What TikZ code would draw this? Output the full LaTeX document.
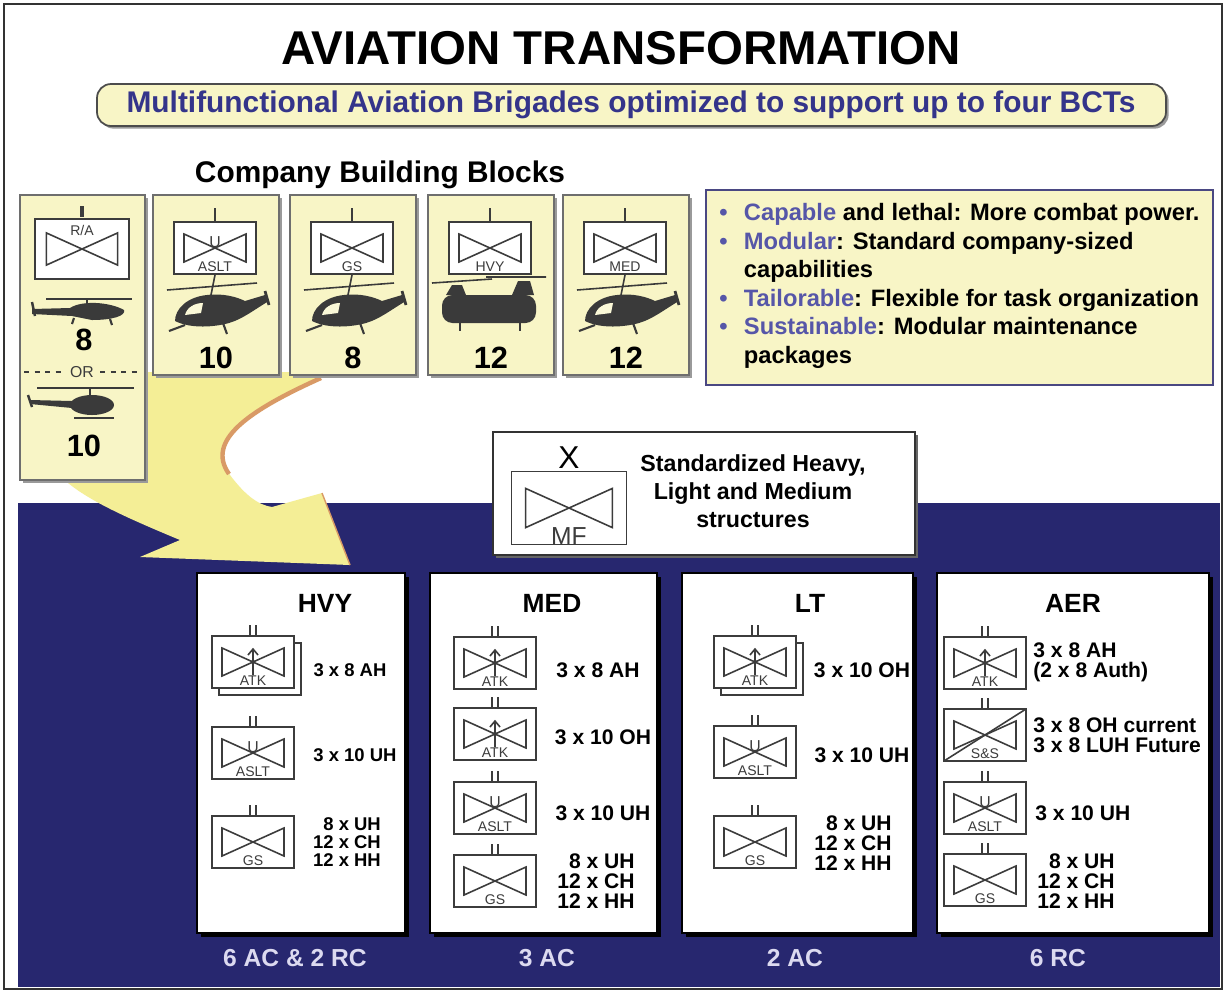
\documentclass[tikz,border=0pt]{standalone}
\usepackage{fontspec}
\setmainfont{Liberation Sans}
\usetikzlibrary{shadows,calc}
\definecolor{avNavy}{HTML}{27276F}
\definecolor{avCard}{HTML}{F8F5C6}
\definecolor{avArrow}{HTML}{F4EE96}
\definecolor{avEdge}{HTML}{D99A66}
\definecolor{avBlue}{HTML}{34348A}
\definecolor{avAccent}{HTML}{5656A8}
\definecolor{avFoot}{HTML}{DCDAF0}
\definecolor{avGray}{HTML}{6E6E6E}
\definecolor{avShade}{HTML}{9A9A9A}
\definecolor{avSym}{HTML}{3C3C3C}
\definecolor{avHeli}{HTML}{3A3A3A}
\definecolor{avFrame}{HTML}{4A4882}
\tikzset{
  card/.style={draw=avGray, line width=0.8pt, fill=avCard,
               drop shadow={shadow xshift=1.5pt, shadow yshift=-1.5pt,
                            opacity=1, fill=avShade}},
  colbox/.style={draw=black, line width=0.6pt, fill=white,
                 drop shadow={shadow xshift=2.5pt, shadow yshift=-2.5pt,
                              opacity=1, fill=black}},
  symline/.style={draw=avSym, line width=0.9pt},
  symlbl/.style={font=\fontsize{8}{8}\selectfont, text=avSym, inner sep=0pt},
  cnt/.style={font=\bfseries\fontsize{17.5}{18}\selectfont, inner sep=0pt},
  coltitle/.style={font=\bfseries\fontsize{15}{16}\selectfont, inner sep=0pt},
  qty/.style={font=\bfseries\fontsize{12}{11.5}\selectfont, align=left, inner sep=0pt},
  qtysm/.style={font=\bfseries\fontsize{10.5}{10.2}\selectfont, align=left, inner sep=0pt},
  foot/.style={font=\bfseries\fontsize{14}{15}\selectfont, text=avFoot, inner sep=0pt},
  bullet/.style={font=\bfseries\fontsize{13.5}{15}\selectfont, anchor=base west, inner sep=0pt},
  pics/unit/.style n args={3}{code={
    \draw[symline, fill=white] (-41,-26) rectangle (41,26);
    \draw[symline] (-31,-14) -- (31,14) -- (31,-14) -- (-31,14) -- cycle;
    \node[symlbl] (-lbl) at (0,19) {#1};
    #2
    #3
  }},
  pics/stack/.style={code={
    \draw[symline, fill=white] (-34,-19) rectangle (48,33);
  }},
  pics/hawk/.style={code={
    \fill[avHeli] (-40,14) .. controls (-40,2) and (-28,-10) .. (-8,-12)
      .. controls (8,-14) and (22,-10) .. (30,-6) -- (50,-12) -- (54,-6)
      .. controls (40,2) and (28,12) .. (14,16) .. controls (0,20) and (-24,22) .. cycle;
    \fill[avCard!70!white] (-30,8) .. controls (-28,0) and (-20,-4) .. (-12,-4)
      -- (-14,6) -- cycle;
    \draw[avHeli, line width=0.9pt] (-48,-17) -- (42,-24) (-4,-12) -- (0,-32);
    \draw[avHeli, line width=1.6pt] (50,-16) -- (54,-2);
    \draw[avHeli, line width=1.2pt] (-46,24) -- (-30,18) (8,16) -- (12,27);
  }},
  pics/apache/.style={code={
    \fill[avHeli] (-50,-3) -- (-12,-4) .. controls (0,-12) and (28,-10) .. (42,-2)
      .. controls (44,4) and (30,8) .. (10,8) -- (-10,4) -- (-50,2) -- cycle;
    \draw[avHeli, line width=0.8pt] (-36,-13) -- (50,-13) (5,-13) -- (5,-8);
    \draw[avHeli, line width=1.4pt] (-50,-10) -- (-47,4);
    \draw[avHeli, line width=1.2pt] (-8,6) -- (-10,12) (28,7) -- (30,13);
  }},
  pics/scout/.style={code={
    \fill[avHeli] (10,0) ellipse [x radius=22, y radius=10];
    \fill[avHeli] (-52,-5) -- (-10,-4) -- (-10,3) -- (-52,-1) -- cycle;
    \draw[avHeli, line width=0.8pt] (-45,-17) -- (52,-17) (8,-17) -- (8,-9);
    \draw[avHeli, line width=1.4pt] (-54,-10) -- (-50,2);
    \draw[avHeli, line width=1.2pt] (-8,13) -- (32,13);
  }},
  pics/chinook/.style={code={
    \fill[avHeli, rounded corners=6] (-48,-12) rectangle (46,16);
    \fill[avHeli] (-44,-12) -- (-38,-22) -- (-28,-22) -- (-24,-12) -- cycle;
    \fill[avHeli] (22,-12) -- (28,-26) -- (40,-26) -- (44,-12) -- cycle;
    \draw[avHeli, line width=0.9pt] (-58,-24) -- (2,-28) (-4,-30) -- (56,-30);
    \draw[avHeli, line width=1.2pt] (-30,16) -- (-30,24) (30,16) -- (30,24);
  }},
}
% echelon marks and unit modifiers
\newcommand\coymark{\draw[symline] (0,-40) -- (0,-27);}
\newcommand\bnmark{\draw[symline] (-3,-37) -- (-3,-27) (3,-37) -- (3,-27);}
\newcommand\bdemark{\node[font=\fontsize{18}{18}\selectfont, inner sep=0pt] (-ech) at (0,-36) {X};}
\newcommand\atkmark{\draw[symline] (0,13) -- (0,-13) (-5,-7) -- (0,-13) -- (5,-7);
  \fill[avSym] (0,0) circle (2);}
\newcommand\asltmark{\node[symlbl, font=\fontsize{9}{9}\selectfont] (-u) at (0,-6) {U};}
\newcommand\ssmark{\draw[symline] (-41,26) -- (41,-26);}
\newcommand\bul{\makebox[14pt][l]{\textcolor{avAccent}{\textbullet}}}
\newcommand\hl[1]{\textcolor{avAccent}{#1}}

\begin{document}
\begin{tikzpicture}[x=0.02cm, y=-0.02cm]
\useasboundingbox (0,0) rectangle (1225,992);

%% Frame and heading
\fill[white] (0,0) rectangle (1225,992);
\draw[line width=1.2pt, draw=black!80] (4,4) rectangle (1222,989);
\node[font=\bfseries\fontsize{27}{28}\selectfont, inner sep=0pt] (title) at (621,48) {AVIATION TRANSFORMATION};
\draw[draw=black!70, line width=1pt, fill=avCard, rounded corners=8,
      drop shadow={shadow xshift=1.5pt, shadow yshift=-1.5pt, opacity=1, fill=avShade}]
  (97,84) rectangle (1166,126);
\node[font=\bfseries\fontsize{17}{18}\selectfont, text=avBlue, inner sep=0pt] (sub) at (631,105)
  {Multifunctional Aviation Brigades optimized to support up to four BCTs};
\node[font=\bfseries\fontsize{17}{18}\selectfont, inner sep=0pt] (cbb) at (380,175) {Company Building Blocks};

%% Navy band
\fill[avNavy] (18,503) rectangle (1220,987);

%% Big arrow
\fill[avArrow] (60,372) -- (320,372) -- (320,377)
  .. controls (250,410) and (205,440) .. (230,475)
  .. controls (245,495) and (258,505) .. (272,507) -- (322,493) -- (350,565)
  -- (140,557) -- (180,540) .. controls (120,515) and (75,495) .. (55,470) -- cycle;
\draw[avEdge, line width=2.5pt] (321,378) .. controls (250,410) and (205,440) .. (229,474);
\draw[avEdge, line width=0.8pt] (322,493) -- (350,565);

%% Company cards
\draw[card] (20,195) rectangle (145,480);
\pic[scale=1.15] (sRA) at (82,249) {unit={}{\draw[symline, line width=2.2pt] (0,-37) -- (0,-28);}{}};
\node[symlbl] (lRA) at (82,230) {R/A};
\pic (aRA) at (82,312) {apache};
\node[cnt] (nRA) at (84,340) {8};
\draw[symline, dashed, line width=1.1pt] (24,372) -- (64,372) (100,372) -- (141,372);
\node[symlbl, font=\fontsize{9}{9}\selectfont] (orRA) at (82,372) {OR};
\pic (bRA) at (82,405) {scout};
\node[cnt] (mRA) at (84,446) {10};

\foreach \cx/\lbl/\num/\craft/\mod in {215/ASLT/10/hawk/\asltmark, 352/GS/8/hawk/\relax,
                                      490/HVY/12/chinook/\relax, 625/MED/12/hawk/\relax} {
  \draw[card] (\cx-62,195) rectangle (\cx+64,375);
  \pic (s\lbl) at (\cx,248) {unit={\lbl}{\coymark}{\mod}};
  \pic (a\lbl) at (\cx,307) {\craft};
  \node[cnt] (n\lbl) at (\cx+1,358) {\num};
}

%% Key points
\draw[draw=avFrame, line width=1.6pt, fill=avCard] (706,190) rectangle (1213,385);
\foreach \y/\txt [count=\k] in {220/{\bul\hl{Capable} and lethal: More combat power.},
    249/{\bul\hl{Modular}: Standard company-sized},
    277/{\hspace{14pt}capabilities},
    306/{\bul\hl{Tailorable}: Flexible for task organization},
    334/{\bul\hl{Sustainable}: Modular maintenance},
    363/{\hspace{14pt}packages}} {
  \node[bullet] (pt\k) at (719,\y) {\txt};
}

%% Brigade symbol
\draw[draw=black!80, line width=1.2pt, fill=white,
      drop shadow={shadow xshift=1.5pt, shadow yshift=-1.5pt, opacity=1, fill=black!60}]
  (493,432) rectangle (915,555);
\pic[scale=1.4] (mf) at (569,508) {unit={}{\bdemark}{}};
\node[font=\fontsize{14}{14}\selectfont, text=avSym, inner sep=0pt] (mfl) at (569,536) {MF};
\node[font=\bfseries\fontsize{13.2}{16}\selectfont, align=center, inner sep=0pt] (mft) at (753,491)
  {Standardized Heavy,\\Light and Medium\\structures};

%% Brigade types
\foreach \nm/\xa/\xb/\tx/\ttl/\fx/\foot in {hvy/197/405/325/HVY/295/6 AC \& 2 RC,
    med/430/657/552/MED/547/3 AC, lt/682/913/810/LT/795/2 AC, aer/937/1209/1073/AER/1058/6 RC} {
  \draw[colbox] (\xa,573) rectangle (\xb,933);
  \node[coltitle] (t\nm) at (\tx,603) {\ttl};
  \node[foot] (f\nm) at (\fx,958) {\foot};
}

% HVY
\pic (hstk) at (253,662) {stack};
\pic (h1) at (253,662) {unit={ATK}{\bnmark}{\atkmark}};
\pic (h2) at (253,753) {unit={ASLT}{\bnmark}{\asltmark}};
\pic (h3) at (253,842) {unit={GS}{\bnmark}{}};
\node[qtysm] (hq1) at (350,670) {3 x 8 AH};
\node[qtysm] (hq2) at (355,755) {3 x 10 UH};
\node[qtysm] (hq3) at (347,842) {\phantom{1}8 x UH\\12 x CH\\12 x HH};

% MED
\pic (m1) at (495,663) {unit={ATK}{\bnmark}{\atkmark}};
\pic (m2) at (495,734) {unit={ATK}{\bnmark}{\atkmark}};
\pic (m3) at (495,808) {unit={ASLT}{\bnmark}{\asltmark}};
\pic (m4) at (495,881) {unit={GS}{\bnmark}{}};
\node[qty] (mq1) at (598,670) {3 x 8 AH};
\node[qty] (mq2) at (603,737) {3 x 10 OH};
\node[qty] (mq3) at (603,813) {3 x 10 UH};
\node[qty] (mq4) at (596,881) {\phantom{1}8 x UH\\12 x CH\\12 x HH};

% LT
\pic (lstk) at (755,662) {stack};
\pic (l1) at (755,662) {unit={ATK}{\bnmark}{\atkmark}};
\pic (l2) at (755,752) {unit={ASLT}{\bnmark}{\asltmark}};
\pic (l3) at (755,842) {unit={GS}{\bnmark}{}};
\node[qty] (lq1) at (862,670) {3 x 10 OH};
\node[qty] (lq2) at (862,755) {3 x 10 UH};
\node[qty] (lq3) at (853,843) {\phantom{1}8 x UH\\12 x CH\\12 x HH};

% AER
\pic (r1) at (985,663) {unit={ATK}{\bnmark}{\atkmark}};
\pic (r2) at (985,735) {unit={S\&S}{\bnmark}{\ssmark}};
\pic (r3) at (985,808) {unit={ASLT}{\bnmark}{\asltmark}};
\pic (r4) at (985,880) {unit={GS}{\bnmark}{}};
\node[qty, anchor=west] (rq1) at (1033,662) {3 x 8 AH\\(2 x 8 Auth)};
\node[qty, anchor=west] (rq2) at (1033,735) {3 x 8 OH current\\3 x 8 LUH Future};
\node[qty, anchor=west] (rq3) at (1035,813) {3 x 10 UH};
\node[qty, anchor=west] (rq4) at (1037,881) {\phantom{1}8 x UH\\12 x CH\\12 x HH};
\end{tikzpicture}
\end{document}
